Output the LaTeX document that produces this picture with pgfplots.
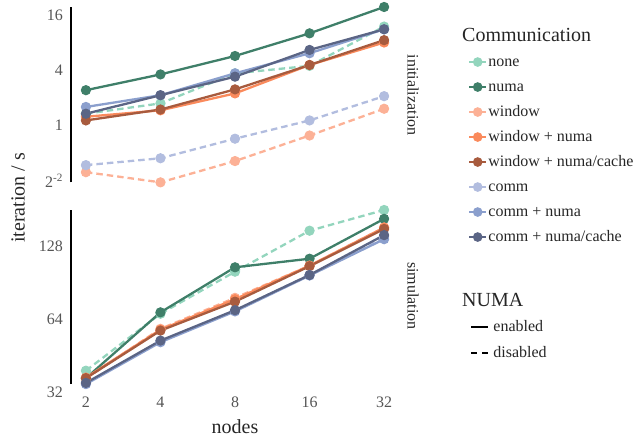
\documentclass[border=0pt]{standalone}
\usepackage{fontspec}
\setmainfont{Liberation Serif}
\usepackage{pgfplots}
\pgfplotsset{compat=1.18}
\definecolor{cnone}{HTML}{93D5BD}
\definecolor{cnuma}{HTML}{3F7F69}
\definecolor{cwin}{HTML}{FCB196}
\definecolor{cwinnuma}{HTML}{FA8A5C}
\definecolor{cwincache}{HTML}{A85B3E}
\definecolor{ccomm}{HTML}{B2BDDF}
\definecolor{ccommnuma}{HTML}{8B9FCD}
\definecolor{ccommcache}{HTML}{5B6585}
\definecolor{tickgray}{HTML}{555555}
\definecolor{txt}{HTML}{262626}
\tikzset{
  serS/.style={line width=2.3pt, mark=*, mark size=4.6pt, mark options={solid, line width=1pt}, color=#1, solid},
  serD/.style={line width=2.3pt, mark=*, mark size=4.6pt, mark options={solid, line width=1pt}, color=#1, dash pattern=on 6.5pt off 4pt},
  legS/.style={color=#1, line width=2.3pt, mark=*, mark size=4.3pt, mark options={line width=1pt},
    legend image code/.code={\draw[##1] (0pt,0pt) -- (19pt,0pt); \draw[##1] plot coordinates {(9.5pt,0pt)};}},
  legL/.style={black, line width=2.3pt,
    legend image code/.code={\draw[##1] (0pt,0pt) -- (19pt,0pt);}},
}
\begin{document}
\begin{tikzpicture}
\path[use as bounding box] (0pt,0pt) rectangle (639pt,438pt);
% ---------------- top: initialization
\begin{axis}[
  width=328pt, height=186pt, scale only axis,
  xmode=log, log basis x=2, ymode=log, log basis y=2,
  xmin=1.741, xmax=36.76,
  axis line style={draw=none}, major tick length=0pt, minor tick length=0pt,
  xtick={2,4,8,16,32},
  tick label style={font=\fontsize{16}{16}\selectfont, text=tickgray},
  yticklabel style={xshift=-4.5pt},
  clip=false,
  legend cell align=left,
  legend style={draw=none, fill=none, inner sep=0pt, outer sep=0pt, row sep=9pt,
    font=\fontsize{16}{16}\selectfont, text=txt,
    nodes={inner sep=1pt, text height=11pt, text depth=3pt}},
  at={(71pt,248pt)}, anchor=south west,
  ymin=0.198, ymax=21.35,
  ytick={0.25,1,4,16}, yticklabels={2\textsuperscript{-2},1,4,16},
  xticklabels={},
  legend style={at={(1.2104,0.731)}, anchor=north west}]
\addlegendimage{legS=cnone}\addlegendentry{none}
\addlegendimage{legS=cnuma}\addlegendentry{numa}
\addlegendimage{legS=cwin}\addlegendentry{window}
\addlegendimage{legS=cwinnuma}\addlegendentry{window + numa}
\addlegendimage{legS=cwincache}\addlegendentry{window + numa/cache}
\addlegendimage{legS=ccomm}\addlegendentry{comm}
\addlegendimage{legS=ccommnuma}\addlegendentry{comm + numa}
\addlegendimage{legS=ccommcache}\addlegendentry{comm + numa/cache}
\addplot[black, line width=1.2pt, forget plot] coordinates {(1.741,0.24) (1.741,19.8)};
\addplot[serD=cnone, forget plot] coordinates {(2,1.35) (4,1.75) (8,3.73) (16,4.5) (32,12.1)};
\addplot[serS=cnuma, forget plot] coordinates {(2,2.44) (4,3.63) (8,5.77) (16,10.2) (32,19.8)};
\addplot[serD=cwin, forget plot] coordinates {(2,0.31) (4,0.24) (8,0.41) (16,0.78) (32,1.53)};
\addplot[serS=cwinnuma, forget plot] coordinates {(2,1.25) (4,1.47) (8,2.25) (16,4.6) (32,8.1)};
\addplot[serS=cwincache, forget plot] coordinates {(2,1.14) (4,1.50) (8,2.49) (16,4.6) (32,8.6)};
\addplot[serD=ccomm, forget plot] coordinates {(2,0.37) (4,0.44) (8,0.72) (16,1.14) (32,2.10)};
\addplot[serS=ccommnuma, forget plot] coordinates {(2,1.60) (4,2.15) (8,3.73) (16,6.18) (32,11.3)};
\addplot[serS=ccommcache, forget plot] coordinates {(2,1.35) (4,2.15) (8,3.43) (16,6.72) (32,11.3)};
\end{axis}
% ---------------- bottom: simulation
\begin{axis}[
  width=328pt, height=186pt, scale only axis,
  xmode=log, log basis x=2, ymode=log, log basis y=2,
  xmin=1.741, xmax=36.76,
  axis line style={draw=none}, major tick length=0pt, minor tick length=0pt,
  xtick={2,4,8,16,32},
  tick label style={font=\fontsize{16}{16}\selectfont, text=tickgray},
  yticklabel style={xshift=-4.5pt},
  clip=false,
  legend cell align=left,
  legend style={draw=none, fill=none, inner sep=0pt, outer sep=0pt, row sep=10pt,
    font=\fontsize{16}{16}\selectfont, text=txt,
    nodes={inner sep=1pt, text height=11pt, text depth=3pt}},
  at={(71pt,45pt)}, anchor=south west,
  ymin=31.8, ymax=186,
  ytick={32,64,128}, yticklabels={32,64,128},
  xticklabels={2,4,8,16,32},
  legend style={at={(1.2165,0.396)}, anchor=north west}]
\addlegendimage{legL, solid}\addlegendentry{\hspace{3pt}enabled}
\addlegendimage{legL, dash pattern=on 6pt off 5pt}\addlegendentry{\hspace{3pt}disabled}
\addplot[black, line width=1.2pt, forget plot] coordinates {(1.741,34.6) (1.741,180.8)};
\addplot[serD=cnone, forget plot] coordinates {(2,39.3) (4,67.5) (8,100.6) (16,148.5) (32,180.8)};
\addplot[serS=cnuma, forget plot] coordinates {(2,36.6) (4,68.4) (8,104.9) (16,113.8) (32,166.2)};
\addplot[serD=cwin, forget plot] coordinates {(2,36.5) (4,58.5) (8,78.5) (16,106.5) (32,153)};
\addplot[serS=cwinnuma, forget plot] coordinates {(2,36.8) (4,58.0) (8,77.5) (16,106.5) (32,153)};
\addplot[serS=cwincache, forget plot] coordinates {(2,36.6) (4,57.5) (8,75.7) (16,106.0) (32,151)};
\addplot[serD=ccomm, forget plot] coordinates {(2,34.8) (4,52.0) (8,69.5) (16,97.5) (32,140)};
\addplot[serS=ccommnuma, forget plot] coordinates {(2,34.6) (4,51.5) (8,69.0) (16,97.0) (32,137)};
\addplot[serS=ccommcache, forget plot] coordinates {(2,35.0) (4,52.3) (8,69.8) (16,97.5) (32,142.4)};
\end{axis}
% ---------------- labels
\node[rotate=90, text=txt, font=\fontsize{20}{20}\selectfont, inner sep=0pt] at (18pt,240pt) {iteration / s};
\node[text=txt, font=\fontsize{20}{20}\selectfont, inner sep=0pt] at (235pt,11pt) {nodes};
\node[rotate=-90, text=txt, font=\fontsize{16}{16}\selectfont, inner sep=0pt] at (413pt,343pt) {initialization};
\node[rotate=-90, text=txt, font=\fontsize{16}{16}\selectfont, inner sep=0pt] at (413pt,142pt) {simulation};
\node[anchor=west, text=txt, font=\fontsize{20}{20}\selectfont, inner sep=0pt] at (462pt,403pt) {Communication};
\node[anchor=west, text=txt, font=\fontsize{20}{20}\selectfont, inner sep=0pt] at (462pt,138pt) {NUMA};
\end{tikzpicture}
\end{document}
